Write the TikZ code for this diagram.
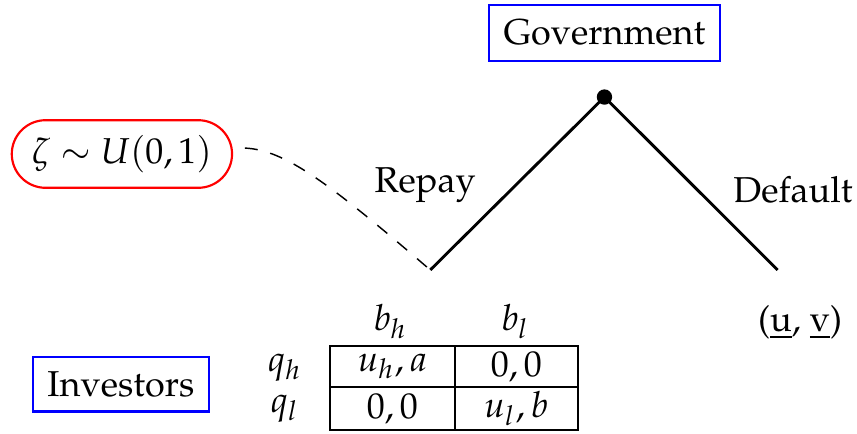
\documentclass[tikz,border=0pt]{standalone}
\usepackage[T1]{fontenc}
\usepackage{amsmath}
\usepackage{mathpazo}
\usepackage{tikz}
\usetikzlibrary{shapes.misc}

\begin{document}
\begin{tikzpicture}[font=\normalsize,
  playerbox/.style={draw=blue, line width=0.6pt, inner sep=4pt, minimum height=0.55cm},
  naturebox/.style={draw=red, line width=0.6pt, rounded rectangle, inner xsep=4pt, minimum width=2.15cm, minimum height=0.66cm},
  branch/.style={line width=0.8pt},
  cell/.style={inner sep=1pt}]
\useasboundingbox (0,0) rectangle (8.365,-4.236);
% --- players ---
\node[playerbox] (gov) at (5.90,-0.32) {Government};
\node[playerbox, minimum height=0.47cm] (inv) at (1.18,-3.75) {Investors};
\node[naturebox] (zeta) at (1.19,-1.503) {$\zeta\sim U(0,1)$};

% --- game tree ---
\node[circle, fill, inner sep=0pt, minimum size=0.15cm] (root) at (5.90,-0.947) {};
\coordinate (repay) at (4.20,-2.635);
\coordinate (default) at (7.59,-2.635);
\draw[branch] (root.center) -- (repay);
\draw[branch] (root.center) -- (default);
\node (repaylbl) at (4.15,-1.806) {Repay};
\node (defaultlbl) at (7.74,-1.854) {Default};
\node (payoff) at (7.81,-3.15) {(\underline{u}, \underline{v})};

% --- dashed link from the draw ---
\coordinate (zstart) at (2.39,-1.445);
\draw[dash pattern=on 3.6pt off 3.6pt] (zstart) .. controls (2.78,-1.464) and (3.20,-1.776) .. (repay);

% --- investors' game ---
\draw[line width=0.4pt] (3.22,-3.377) rectangle (5.64,-4.197);
\draw[line width=0.4pt] (4.44,-3.377) -- (4.44,-4.197);
\draw[line width=0.4pt] (3.22,-3.777) -- (5.64,-3.777);
\node[cell] (bh) at (3.81,-3.14) {$b_h$};
\node[cell] (bl) at (5.03,-3.14) {$b_l$};
\node[cell] (qh) at (2.78,-3.59) {$q_h$};
\node[cell] (ql) at (2.78,-3.99) {$q_l$};
\node[cell] (hh) at (3.83,-3.577) {$u_h,a$};
\node[cell] (hl) at (5.04,-3.577) {$0,0$};
\node[cell] (lh) at (3.83,-3.987) {$0,0$};
\node[cell] (ll) at (5.04,-3.987) {$u_l,b$};
\end{tikzpicture}
\end{document}
